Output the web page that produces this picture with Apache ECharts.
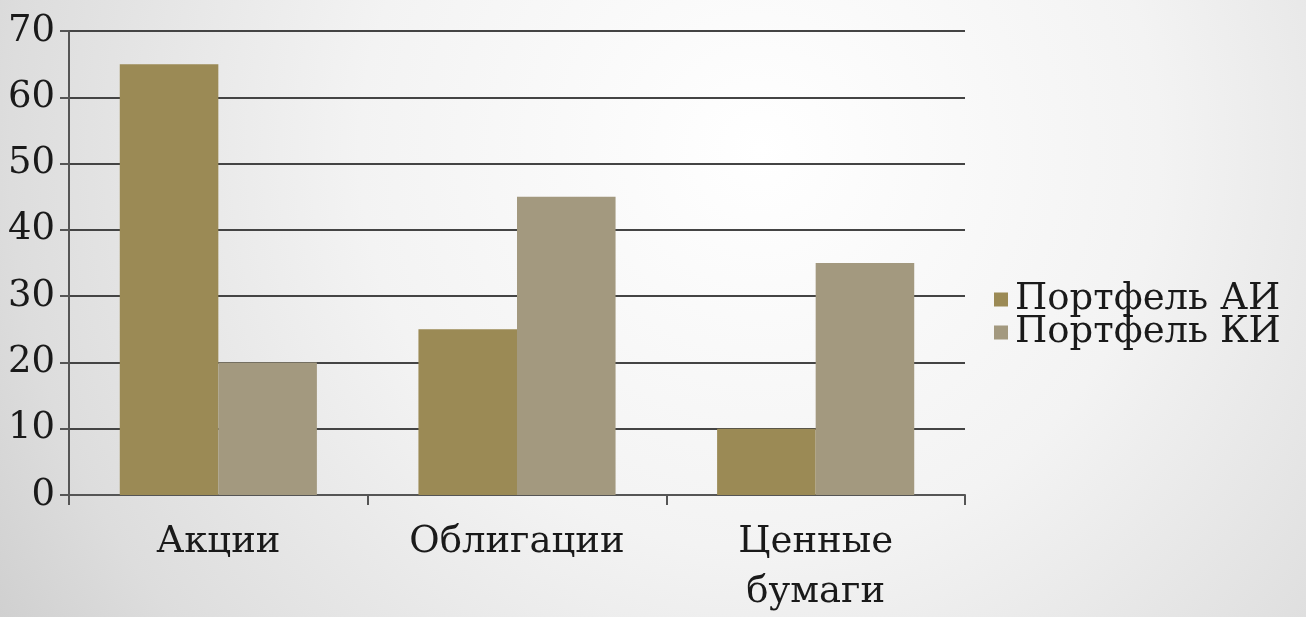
<!DOCTYPE html>
<html><head><meta charset="utf-8">
<script src="https://cdn.jsdelivr.net/npm/echarts@6/dist/echarts.min.js"></script>
<style>html,body{margin:0;padding:0;}#c{width:1306px;height:617px;}</style>
</head><body><div id="c"></div>
<script>
const categories = ['Акции', 'Облигации', 'Ценные бумаги'];
const seriesNames = ['Портфель АИ', 'Портфель КИ'];
const valuesAI = [65, 25, 10];
const valuesKI = [20, 45, 35];
const yTicks = [0, 10, 20, 30, 40, 50, 60, 70];

const FONT = '"DejaVu Serif", serif';
const FS = 37;
const chart = echarts.init(document.getElementById('c'));
chart.setOption({
  animation: false,
  backgroundColor: {
    type: 'radial', x: 760, y: 150, r: 1000, global: true,
    colorStops: [{offset: 0, color: '#ffffff'}, {offset: 0.4, color: '#f3f3f3'}, {offset: 0.75, color: '#dddddd'}, {offset: 1, color: '#c6c6c6'}]
  },
  grid: {left: 69, right: 341, top: 31, bottom: 120},
  legend: {
    orient: 'vertical', left: 989, top: 276, itemWidth: 14, itemHeight: 14, itemGap: -4,
    icon: 'rect',
    textStyle: {fontFamily: FONT, fontSize: FS, color: '#1a1a1a', padding: [0,0,0,2]},
    data: seriesNames
  },
  xAxis: {
    type: 'category', data: categories,
    axisLine: {lineStyle: {color: '#555', width: 2}},
    axisTick: {show: true, length: 10, lineStyle: {color: '#555', width: 2}},
    axisLabel: {fontFamily: FONT, fontSize: FS, color: '#1a1a1a', margin: 22, lineHeight: 50,
      formatter: v => v.replace(' ', '\n')}
  },
  yAxis: {
    type: 'value', min: yTicks[0], max: yTicks[yTicks.length-1], interval: 10,
    axisLine: {show: true, lineStyle: {color: '#555', width: 2}},
    axisTick: {show: true, length: 9, lineStyle: {color: '#555', width: 2}},
    splitLine: {lineStyle: {color: '#444', width: 2}},
    axisLabel: {fontFamily: FONT, fontSize: FS, color: '#1a1a1a', margin: 14}
  },
  series: [
    {name: seriesNames[0], type: 'bar', data: valuesAI, barGap: '0%', barCategoryGap: '34%',
     itemStyle: {color: '#9b8a55'}},
    {name: seriesNames[1], type: 'bar', data: valuesKI, barGap: '0%', barCategoryGap: '34%',
     itemStyle: {color: '#a3997f'}}
  ]
});
</script></body></html>
